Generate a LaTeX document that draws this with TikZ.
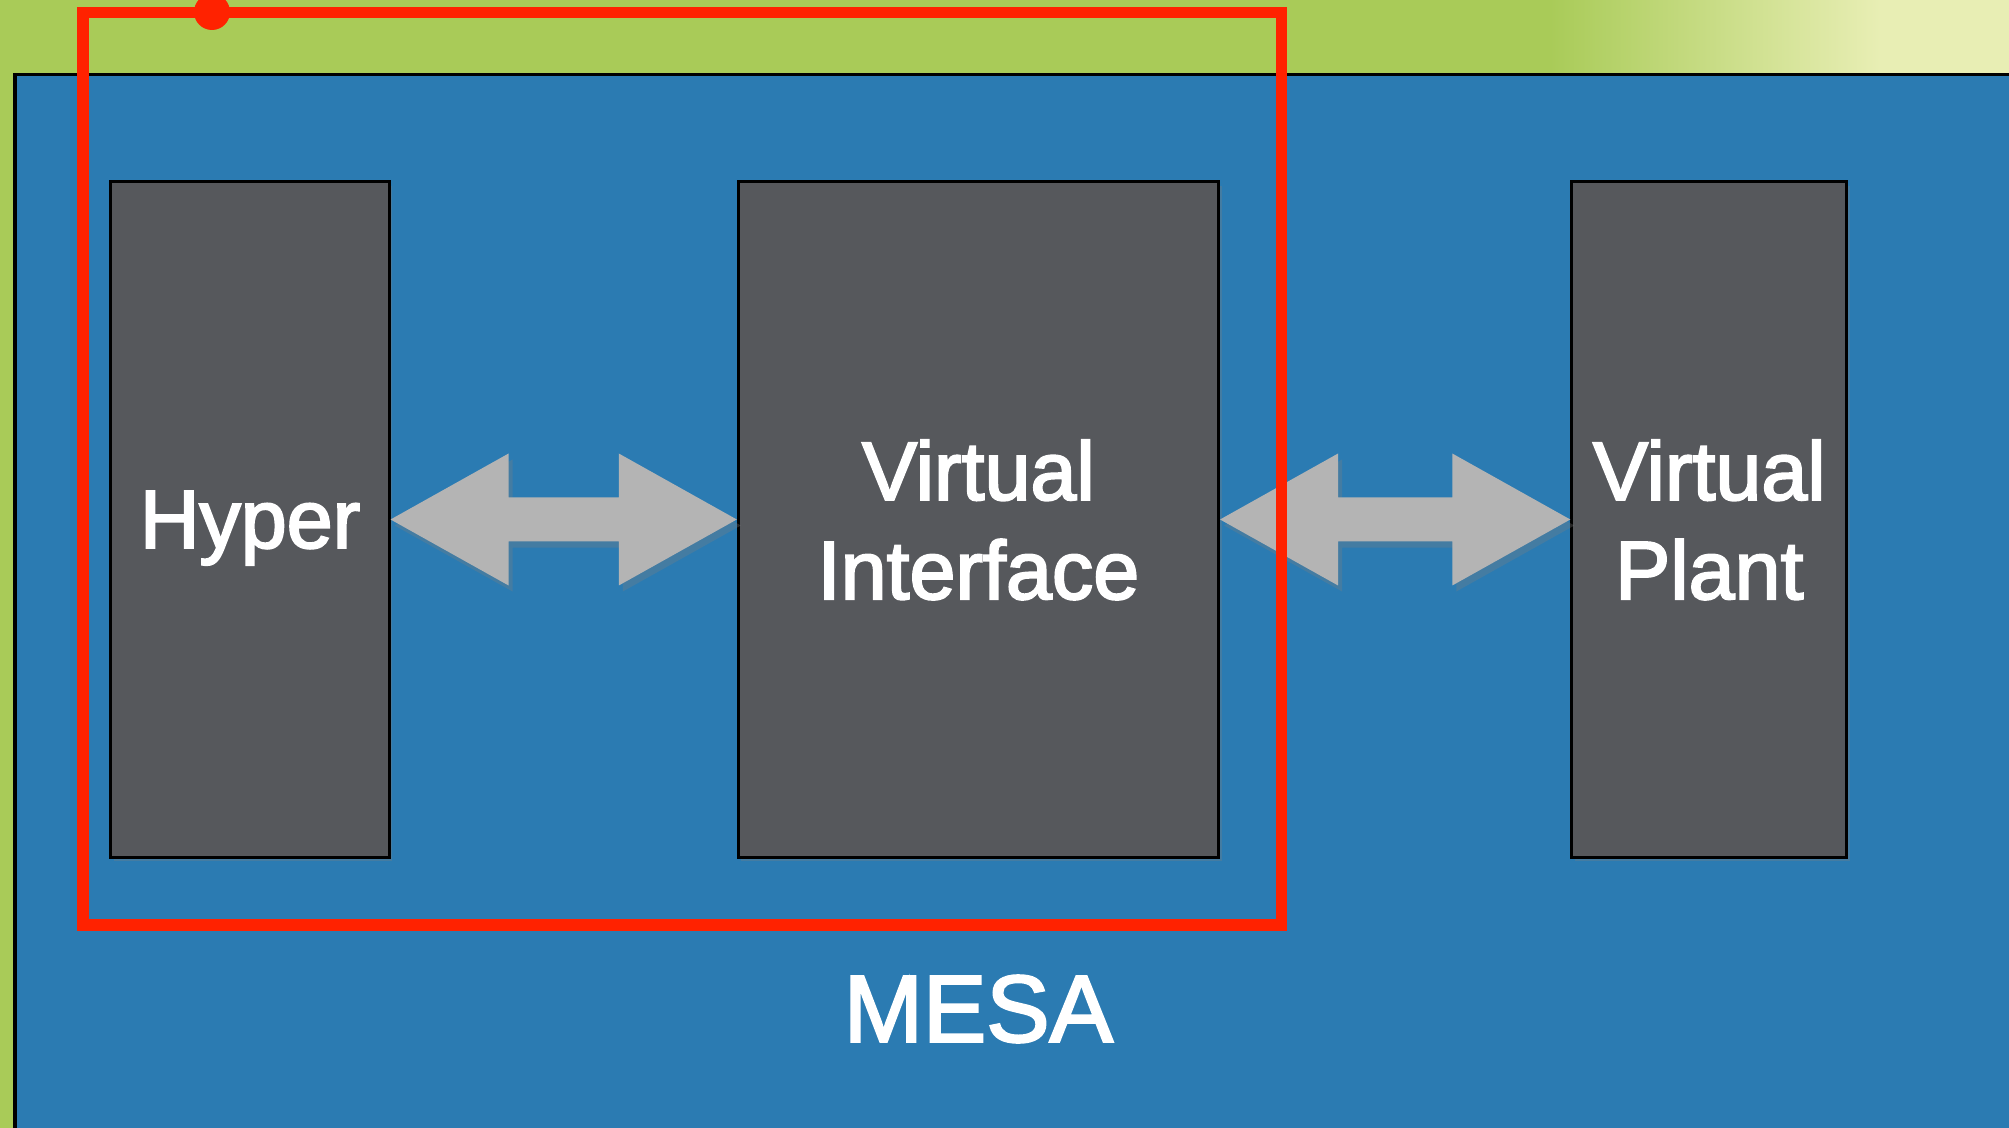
\documentclass[tikz,border=0pt]{standalone}
\usepackage{fontspec}
\newfontfamily\slidefont{Liberation Sans}[FakeBold=2.5]
\usetikzlibrary{calc,positioning,shadows}

\definecolor{slidegreen}{HTML}{A9CB58}
\definecolor{palegreen}{HTML}{E8EEB4}
\definecolor{panelblue}{HTML}{2B7BB2}
\definecolor{blockgray}{HTML}{56585C}
\definecolor{arrowgray}{HTML}{B4B4B4}
\definecolor{focusred}{HTML}{FF2200}

\newcommand{\fatarrow}[2]{%
  \fill[fatarrow] (#1.east) -- ++(118,-66) -- ++(0,44) -- ($(#2.west)+(-118,-22)$) -- ++(0,-44)
    -- (#2.west) -- ++(-118,66) -- ++(0,-44) -- ($(#1.east)+(118,22)$) -- ++(0,44) -- cycle;}

\begin{document}
\begin{tikzpicture}
[
    x=0.01cm, y=-0.01cm,
    block/.style={draw=black, line width=0.03cm, fill=blockgray, text=white, align=center,
        font=\slidefont\fontsize{23.5}{28.2}\selectfont, text depth=0pt, inner sep=0pt,
        minimum height=6.75cm, drop shadow={shadow xshift=0.3mm, shadow yshift=-0.4mm, opacity=0.3}},
    fatarrow/.style={fill=arrowgray, drop shadow={shadow xshift=0.4mm, shadow yshift=-0.6mm, opacity=0.3}},
]
\useasboundingbox (0,0) rectangle (2009,1128);
\fill[slidegreen] (0,0) rectangle (2009,1128);
\shade[left color=slidegreen, right color=palegreen] (1550,0) rectangle (1880,75);
\fill[palegreen] (1880,0) rectangle (2009,75);
\fill[panelblue] (15,75) rectangle (2009,1128);
\draw[line width=0.03cm] (15,1128) -- (15,75) -- (2009,75);

\node [block, minimum width=2.78cm] (hyper) at (250,519.5) {Hyper};
\node [block, minimum width=4.80cm, right=3.46cm of hyper] (vi) {Virtual\\Interface};
\node [block, minimum width=2.75cm, right=3.50cm of vi] (vp) {Virtual\\Plant};
\node [text=white, font=\slidefont\fontsize{27}{32}\selectfont] (mesa) at (vi |- 0,1009) {MESA};

\fatarrow{hyper}{vi}
\fatarrow{vi}{vp}

\draw[focusred, line width=0.11cm] (83,13) rectangle (1281,925);
\fill[focusred] (212,12) circle (0.18cm);
\end{tikzpicture}
\end{document}
